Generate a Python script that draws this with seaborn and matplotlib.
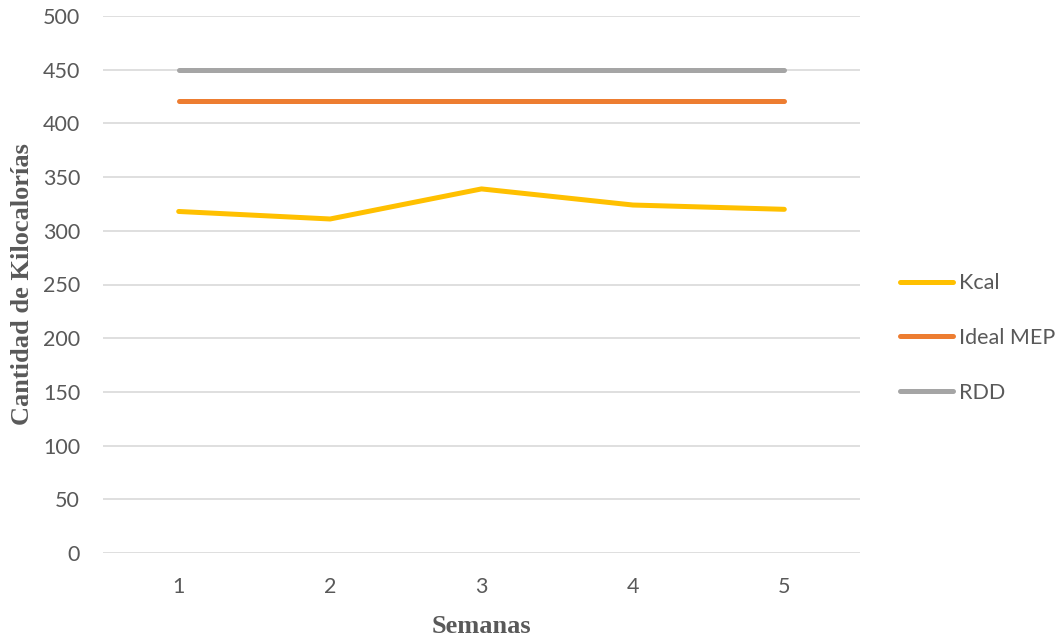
import matplotlib
matplotlib.use("Agg")
import matplotlib.pyplot as plt
import seaborn as sns
import pandas as pd

semanas = [1, 2, 3, 4, 5]
kcal = [318, 311, 339, 324, 320]
ideal_mep = [421, 421, 421, 421, 421]
rdd = [450, 450, 450, 450, 450]
series_names = ["Kcal", "Ideal MEP", "RDD"]
colors = ["#FFC000", "#ED7D31", "#A5A5A5"]

df = pd.DataFrame({
    "Semana": semanas * 3,
    "Valor": kcal + ideal_mep + rdd,
    "Serie": [series_names[0]] * 5 + [series_names[1]] * 5 + [series_names[2]] * 5,
})

sns.set_theme(style="white")
plt.rcParams["font.family"] = ["Lato", "DejaVu Sans"]

fig = plt.figure(figsize=(10.6, 6.36), dpi=100)
ax = fig.add_axes([103 / 1060, 1 - 553 / 636, (860 - 103) / 1060, (553 - 16) / 636])

sns.lineplot(data=df, x="Semana", y="Valor", hue="Serie", palette=colors,
             hue_order=series_names, linewidth=3.6, ax=ax, legend=True)
for ln in ax.lines:
    ln.set_solid_capstyle("round")
    ln.set_solid_joinstyle("round")

ax.set_xlim(0.5, 5.5)
ax.set_ylim(0, 500)
ax.set_xticks(semanas)
ax.set_yticks(range(0, 501, 50))
ax.yaxis.grid(True, color="#D9D9D9", linewidth=1.2)
ax.xaxis.grid(False)
ax.set_axisbelow(True)
for s in ax.spines.values():
    s.set_visible(False)
ax.tick_params(axis="both", length=0, labelsize=15.5, colors="#595959")
ax.tick_params(axis="x", pad=17)
ax.tick_params(axis="y", pad=16.5)

ax.set_xlabel("Semanas", family=["Liberation Serif"], fontweight="bold",
              fontsize=19, color="#595959", labelpad=13)
ax.set_ylabel("Cantidad de Kilocalorías", family=["Liberation Serif"], fontweight="bold",
              fontsize=19, color="#595959", labelpad=6)

leg = ax.legend(loc="center left", bbox_to_anchor=((891 - 103) / 757, (553 - 338) / 537),
                frameon=False, fontsize=15.5, handlelength=2.5, handletextpad=0.25,
                labelspacing=1.62, borderaxespad=0)
for t in leg.get_texts():
    t.set_color("#595959")
for h in leg.get_lines():
    h.set_linewidth(3.6)
    h.set_solid_capstyle("round")

fig.savefig("out.png", dpi=100)
